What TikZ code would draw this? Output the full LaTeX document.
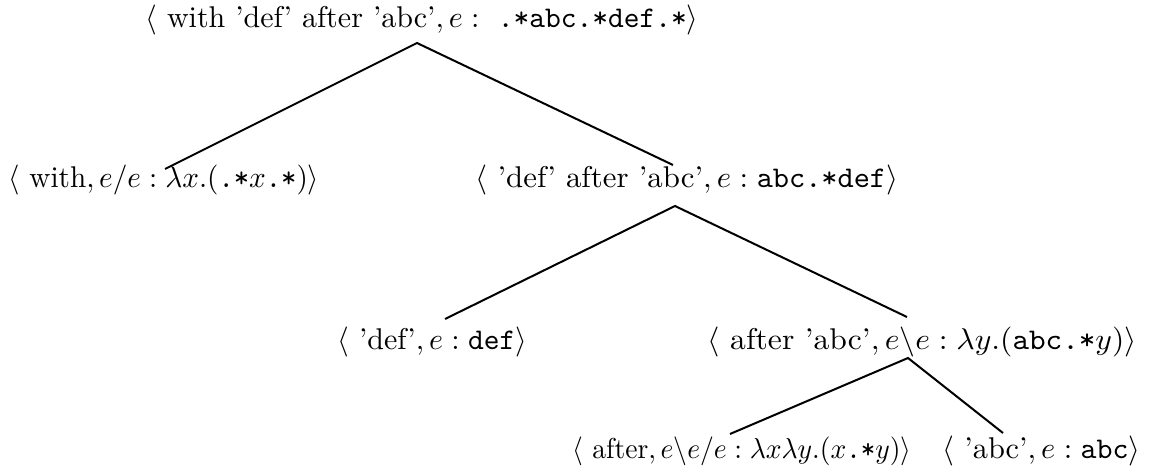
\documentclass[tikz,border=0pt]{standalone}
\usepackage{amsmath}
\usepackage{graphicx}
% a tree label: horizontal scale, vertical scale, text
\newcommand{\treelabel}[3]{\scalebox{#1}[#2]{\fontsize{10}{12}\selectfont #3}}
\begin{document}
\begin{tikzpicture}[x=0.5pt,y=-0.5pt,
  lbl/.style={anchor=base west,inner sep=0pt},
  branch/.style={line width=1pt}]
\useasboundingbox (0,0) rectangle (1162,470);

% labels of the derivation tree
\node[lbl] (root) at (145,28)
  {\treelabel{1.5}{1.5}{$\langle\ \mbox{with 'def' after 'abc'}, e:\ \texttt{.*abc.*def.*}\rangle$}};
\node[lbl] (with) at (8,188)
  {\treelabel{1.46}{1.5}{$\langle\ \mbox{with}, e/e : \lambda x.(\texttt{.*}x\texttt{.*})\rangle$}};
\node[lbl] (defafter) at (475,188)
  {\treelabel{1.54}{1.5}{$\langle\ \mbox{'def' after 'abc'}, e:\texttt{abc.*def}\rangle$}};
\node[lbl] (def) at (337,350)
  {\treelabel{1.5}{1.5}{$\langle\ \mbox{'def'}, e:\texttt{def}\rangle$}};
\node[lbl] (afterabc) at (707,350)
  {\treelabel{1.58}{1.5}{$\langle\ \mbox{after 'abc'}, e\backslash e:\lambda y.(\texttt{abc.*}y)\rangle$}};
\node[lbl] (after) at (572,458)
  {\treelabel{1.38}{1.44}{$\langle\ \mbox{after}, e\backslash e/e:\lambda x\lambda y.(x\texttt{.*}y)\rangle$}};
\node[lbl] (abc) at (942,458)
  {\treelabel{1.52}{1.5}{$\langle\ \mbox{'abc'}, e:\texttt{abc}\rangle$}};

% branch points
\coordinate (t0) at (417,43);
\coordinate (t1) at (675,206);
\coordinate (t2) at (908,358);
\coordinate (e1l) at (165,169);
\coordinate (e1r) at (673,165);
\coordinate (e2l) at (445,319);
\coordinate (e2r) at (907,317);
\coordinate (e3l) at (730,434);
\coordinate (e3r) at (1003,433);

\draw[branch] (e1l) -- (t0) -- (e1r);
\draw[branch] (e2l) -- (t1) -- (e2r);
\draw[branch] (e3l) -- (t2) -- (e3r);
\end{tikzpicture}
\end{document}
